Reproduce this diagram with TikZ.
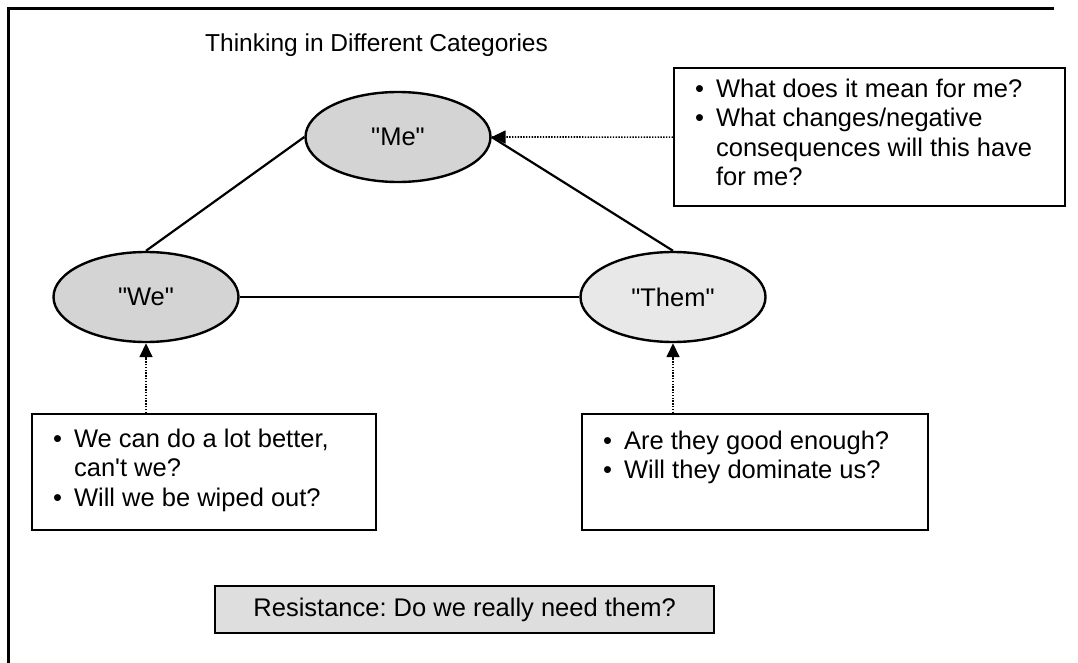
\documentclass[tikz,border=0pt]{standalone}
\usepackage{fontspec}
\setmainfont{Liberation Sans}[Ligatures=TeXOff]
\usetikzlibrary{shapes.geometric,arrows.meta}

% one bulleted entry with a hanging indent
\newcommand{\bulletline}[1]{\par\noindent\hangindent=21pt\hangafter=1\makebox[21pt][l]{\textbullet}#1}
% box contents: width, height, first-baseline drop, entries
\newcommand{\boxtext}[4]{\parbox[c][#2][t]{#1}{\raggedright\leftskip=21pt\parindent=0pt
  \bulletline{\rule{0pt}{#3}}#4}}

\begin{document}
\frenchspacing
\begin{tikzpicture}[x=1pt,y=-1pt,
  every node/.style={font=\fontsize{25.5}{29.5}\selectfont},
  bubble/.style={ellipse, draw, line width=2.4pt, inner sep=0pt,
    minimum width=185pt, minimum height=90pt},
  qbox/.style={draw, line width=2.2pt, inner sep=0pt, fill=white, anchor=north west},
  link/.style={line width=2.2pt},
  hint/.style={line width=1.6pt, dash pattern=on 1.4pt off 1.4pt,
    -{Triangle[length=14pt,width=13pt]}},
]
\useasboundingbox (0,0) rectangle (1078,663);

% page frame (top and left edges)
\draw[line width=3pt] (8,663) -- (8,9) -- (1054,9);

% heading
\node[anchor=base west, inner sep=0pt, font=\fontsize{24.5}{29.5}\selectfont] (title)
  at (205,52) {Thinking in Different Categories};

% the three categories
\node[bubble, fill=black!17] (me)   at (398,137) {"Me"};
\node[bubble, fill=black!17] (we)   at (146,297) {"We"};
\node[bubble, fill=black!9]  (them) at (673,297) {"Them"};

% questions attached to each category
\node[qbox] (mebox) at (673,67) {\boxtext{391pt}{138pt}{29pt}{%
  What does it mean for me?
  \bulletline{What changes/negative\newline consequences will this have\newline for me?}}};
\node[qbox] (webox) at (31,413) {\boxtext{344pt}{116pt}{33pt}{%
  We can do a lot better,\newline can\textquotesingle t we?
  \bulletline{Will we be wiped out?}}};
\node[qbox] (thembox) at (581,413) {\boxtext{346pt}{116pt}{35pt}{%
  Are they good enough?
  \bulletline{Will they dominate us?}}};

% resistance banner
\node[draw, line width=2.2pt, fill=black!13, anchor=north west, inner sep=0pt,
  minimum width=499pt, minimum height=47pt] (resist) at (214,585)
  {Resistance: Do we really need them?};

% triangle of relations
\draw[link] (we.north) -- (me.west);
\draw[link] (we.east) -- (them.west);
\draw[link] (them.north) -- (me.east);

% dotted pointers from the questions
\draw[hint] (mebox.west) -- (me.east);
\draw[hint] (we.south |- webox.north) -- (we.south);
\draw[hint] (them.south |- thembox.north) -- (them.south);
\end{tikzpicture}
\end{document}
